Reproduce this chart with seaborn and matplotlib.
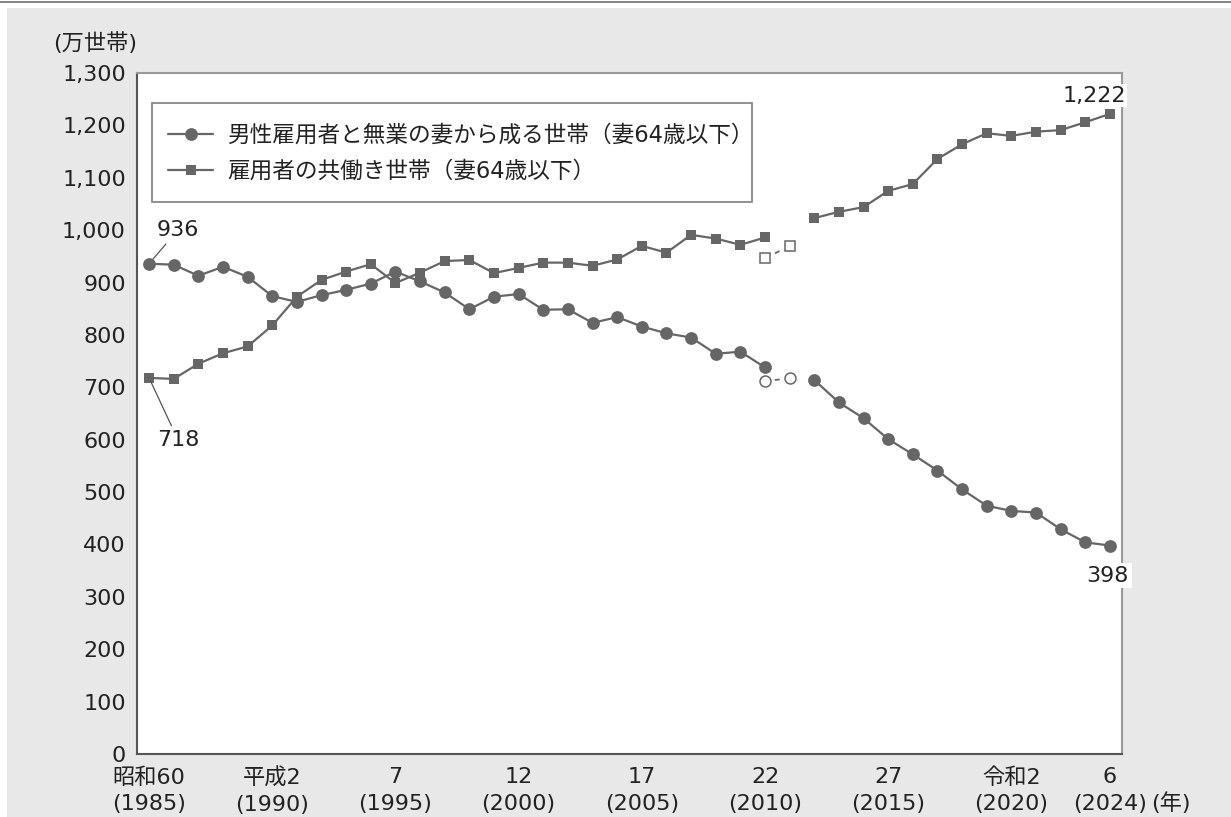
import numpy as np
import pandas as pd
import matplotlib
matplotlib.use("Agg")
import matplotlib.pyplot as plt
import seaborn as sns
from matplotlib.lines import Line2D
from matplotlib.patches import Rectangle

# ---------------- data ----------------
years = list(range(1985, 2011)) + list(range(2012, 2025))
housewife = [936, 934, 913, 930, 911, 874, 863, 876, 886, 898,
             921, 902, 881, 849, 873, 878, 848, 849, 823, 834,
             816, 803, 795, 764, 768, 738,
             714, 671, 641, 601, 572, 541, 505, 474, 464, 461,
             429, 404, 398]
dual = [718, 716, 745, 765, 778, 818, 873, 905, 921, 935,
        899, 919, 941, 943, 918, 928, 938, 938, 932, 944,
        970, 957, 991, 984, 972, 986,
        1023, 1035, 1044, 1075, 1088, 1136, 1164, 1185, 1180, 1188,
        1191, 1206, 1222]
est_years = [2010, 2011]
housewife_est = [712, 717]
dual_est = [946, 970]

xtick_years = [1985, 1990, 1995, 2000, 2005, 2010, 2015, 2020, 2024]
xtick_labels = ["昭和60\n(1985)", "平成2\n(1990)", "7\n(1995)", "12\n(2000)",
                "17\n(2005)", "22\n(2010)", "27\n(2015)", "令和2\n(2020)",
                "6\n(2024)"]
yticks = list(range(0, 1301, 100))
legend_labels = ["男性雇用者と無業の妻から成る世帯（妻64歳以下）",
                 "雇用者の共働き世帯（妻64歳以下）"]

# ---------------- style ----------------
sns.set_style("white")
plt.rcParams["font.family"] = ["DejaVu Sans", "Noto Sans CJK JP"]
plt.rcParams["lines.scale_dashes"] = False
plt.rcParams["text.color"] = "#222222"
plt.rcParams["xtick.color"] = "#888888"
plt.rcParams["ytick.color"] = "#555555"
plt.rcParams["xtick.labelcolor"] = "#222222"
plt.rcParams["ytick.labelcolor"] = "#222222"

C = "#666666"
W, H = 1231, 817
AX_L, AX_B, AX_W, AX_H = 137, 63, 985, 681   # pixel geometry of the axes
AX_TOP = H - AX_B - AX_H                      # 73 px from top

fig = plt.figure(figsize=(W / 100, H / 100), dpi=100)
fig.patch.set_facecolor("white")
fig.patches.append(Rectangle((7 / W, 0), 1 - 7 / W, (H - 8) / H,
                             transform=fig.transFigure, facecolor="#e8e8e8",
                             edgecolor="none", zorder=-5))
fig.lines.append(Line2D([0, 1], [1 - 1.8 / H] * 2, transform=fig.transFigure,
                        color="#777777", lw=1.3, zorder=-4))

ax = fig.add_axes([AX_L / W, AX_B / H, AX_W / W, AX_H / H])
ax.set_facecolor("white")

df_h = pd.DataFrame({"year": years, "value": housewife})
df_h["seg"] = np.where(df_h["year"] <= 2010, "a", "b")
df_d = pd.DataFrame({"year": years, "value": dual})
df_d["seg"] = np.where(df_d["year"] <= 2010, "a", "b")

# dual-income (squares) first, housewife (circles) on top
sns.lineplot(data=df_d, x="year", y="value", units="seg", estimator=None,
             color=C, lw=1.6, marker="s", markersize=7.8, markeredgewidth=0,
             ax=ax, legend=False, zorder=3)
sns.lineplot(data=df_h, x="year", y="value", units="seg", estimator=None,
             color=C, lw=1.6, marker="o", markersize=9.2, markeredgewidth=0,
             ax=ax, legend=False, zorder=4)

# estimates (hollow markers, dashed connector)
sns.lineplot(x=est_years, y=dual_est, color=C, lw=1.3,
             linestyle=(11.7, (3.6, 16.2)), marker="s", markersize=7.3,
             markerfacecolor="white", markeredgecolor=C, markeredgewidth=1.1,
             ax=ax, legend=False, zorder=3)
sns.lineplot(x=est_years, y=housewife_est, color=C, lw=1.3,
             linestyle=(10.65, (3.6, 14.1)), marker="o", markersize=7.9,
             markerfacecolor="white", markeredgecolor=C, markeredgewidth=1.1,
             ax=ax, legend=False, zorder=4)

# axes
ax.set_xlim(1984.51, 2024.49)
ax.set_ylim(0, 1300)
ax.set_xticks(xtick_years)
ax.set_xticklabels(xtick_labels)
ax.set_xticks(list(range(1985, 2025)), minor=True)
ax.set_yticks(yticks)
ax.set_yticklabels([f"{v:,}" for v in yticks])
ax.set_xlabel("")
ax.set_ylabel("")
ax.tick_params(axis="x", which="both", direction="in", length=11, width=1.0,
               pad=9.5, labelsize=16)
ax.tick_params(axis="y", direction="in", length=7.5, width=1.0, pad=8,
               labelsize=16)
for lbl in ax.get_xticklabels():
    lbl.set_linespacing(1.4)

for side in ["left", "bottom"]:
    ax.spines[side].set_color("#555555")
    ax.spines[side].set_linewidth(1.5)
for side in ["top", "right"]:
    ax.spines[side].set_color("#999999")
    ax.spines[side].set_linewidth(1.5)

# annotations
ann_kw = dict(textcoords="offset points", ha="center", va="center", fontsize=16)
ax.annotate(f"{housewife[0]}", xy=(years[0], housewife[0]), xytext=(21, 24.5),
            arrowprops=dict(arrowstyle="-", color="#555555", lw=0.9,
                            shrinkA=1, shrinkB=4), **ann_kw)
ax.annotate(f"{dual[0]}", xy=(years[0], dual[0]), xytext=(21, -45),
            arrowprops=dict(arrowstyle="-", color="#555555", lw=0.9,
                            shrinkA=1, shrinkB=2), **ann_kw)
ax.annotate(f"{dual[-1]:,}", xy=(years[-1], dual[-1]), xytext=(-11.5, 13),
            bbox=dict(facecolor="white", edgecolor="none", pad=1),
            annotation_clip=False, zorder=6, **ann_kw)
ax.annotate(f"{housewife[-1]}", xy=(years[-1], housewife[-1]), xytext=(-1.5, -21.6),
            bbox=dict(facecolor="white", edgecolor="none", pad=2),
            annotation_clip=False, zorder=6, **ann_kw)

# legend frame (drawn manually) + legend entries
def ax_x(px):
    return (px - AX_L) / AX_W

def ax_y(py):
    return 1 - (py - AX_TOP) / AX_H

ax.add_patch(Rectangle((ax_x(152), ax_y(202)), ax_x(752) - ax_x(152),
                       ax_y(103) - ax_y(202), transform=ax.transAxes,
                       facecolor="white", edgecolor="#888888", lw=1.3,
                       zorder=5))
handles = [Line2D([], [], color=C, lw=1.6, marker="o", markersize=9.2, markeredgewidth=0),
           Line2D([], [], color=C, lw=1.6, marker="s", markersize=7.8, markeredgewidth=0)]
leg = ax.legend(handles, legend_labels, loc="upper left",
                bbox_to_anchor=(ax_x(168), ax_y(124)), borderaxespad=0,
                frameon=False, fontsize=16.3,
                handlelength=2.0, handletextpad=0.6, labelspacing=0.56,
                borderpad=0)
leg.set_zorder(6)

fig.text(95 / W, 1 - 43 / H, "(万世帯)", ha="center", va="center", fontsize=16)
fig.text(1171 / W, 1 - 803 / H, "(年)", ha="center", va="center", fontsize=16)

fig.savefig("out.png", dpi=100, facecolor=fig.get_facecolor())
